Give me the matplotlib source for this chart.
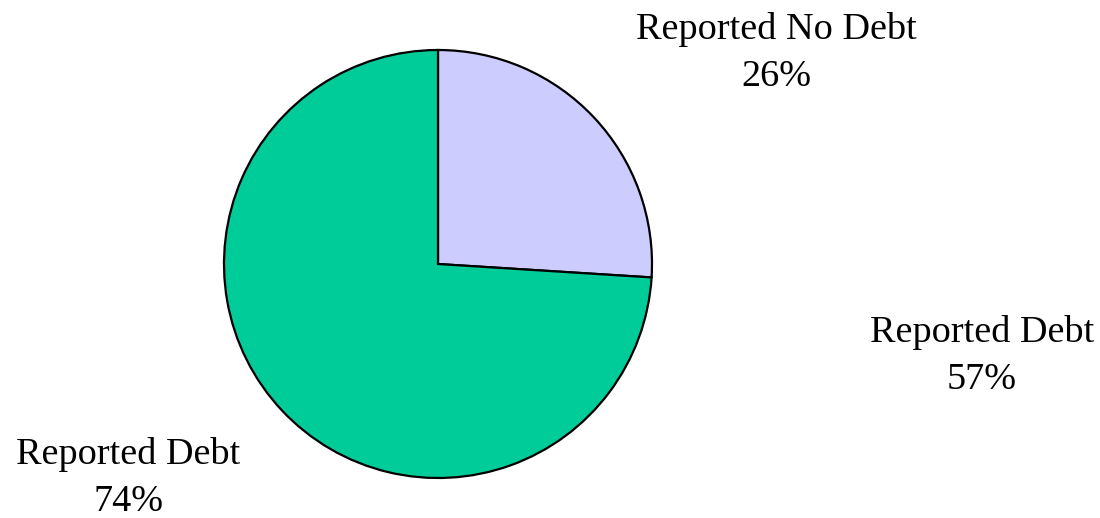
import matplotlib
matplotlib.use("Agg")
import matplotlib.pyplot as plt

# slice data
labels = ["Reported No Debt", "Reported Debt"]
values = [26, 74]
colors = ["#CCCCFF", "#00CC99"]

# extra label shown at right of the chart
extra_label = "Reported Debt"
extra_value = 57

W, H = 1100, 518

fig = plt.figure(figsize=(W / 100, H / 100), dpi=100)
ax = fig.add_axes([0, 0, 1, 1])
ax.set_xlim(0, W)
ax.set_ylim(0, H)
ax.set_aspect("equal")
ax.axis("off")

ax.pie(values, colors=colors, startangle=90, counterclock=False,
       center=(438, H - 264), radius=214,
       wedgeprops=dict(edgecolor="black", linewidth=1.6))
ax.set_xlim(0, W)
ax.set_ylim(0, H)

font = dict(family="Liberation Serif", fontsize=27.5, ha="center", va="center",
            linespacing=1.5)
ax.text(776, H - 53, "%s\n%d%%" % (labels[0], values[0]), **font)
ax.text(128, H - 478, "%s\n%d%%" % (labels[1], values[1]), **font)
ax.text(982, H - 356, "%s\n%d%%" % (extra_label, extra_value), **font)

fig.savefig("out.png", dpi=100)
